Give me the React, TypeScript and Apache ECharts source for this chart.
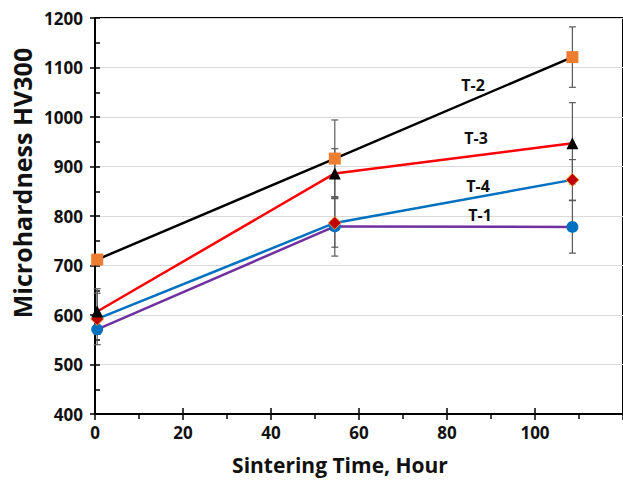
import React, { useEffect, useRef } from "react";
import * as echarts from "echarts";

// Sintering time positions of the plotted points (as drawn on the axis)
const hours = [0.5, 54.5, 108.5];
const seriesNames = ["T-1", "T-4", "T-3", "T-2"];
const t1Values = [571, 779, 778];
const t4Values = [592, 786, 873];
const t3Values = [607, 886, 947];
const t2Values = [712, 916, 1121];
const t1Err = [0, 60, 53];
const t4Err = [52, 49, 41];
const t3Err = [46, 50, 82];
const t2Err = [0, 78, 61];
const xMin = 0;
const xMax = 120;
const xStep = 20;
const yMin = 400;
const yMax = 1200;
const yStep = 100;

const FONT = "'Open Sans', 'Liberation Sans', sans-serif";

export default function App() {
  const ref = useRef<HTMLDivElement>(null);
  useEffect(() => {
    if (!ref.current) return;
    const chart = echarts.init(ref.current, undefined, { renderer: "svg" });

    const values = [t1Values, t4Values, t3Values, t2Values];
    const errs = [t1Err, t4Err, t3Err, t2Err];
    const lineColors = ["#7030A0", "#0070C0", "#FF0000", "#000000"];
    const markerColors = ["#0070C0", "#C00000", "#000000", "#ED7D31"];
    const symbols = ["circle", "diamond", "triangle", "rect"];
    const symbolSizes = [12, 13, 12, 12];

    const errData: number[][] = [];
    values.forEach((vals, si) => {
      vals.forEach((v, i) => {
        if (errs[si][i] > 0) errData.push([hours[i], v, errs[si][i]]);
      });
    });

    const lineSeries = values.map((vals, si) => ({
      type: "line",
      name: seriesNames[si],
      data: vals.map((v, i) => [hours[i], v]),
      symbol: symbols[si],
      symbolSize: symbolSizes[si],
      showAllSymbol: true,
      lineStyle: { color: lineColors[si], width: 2.5 },
      itemStyle: {
        color: markerColors[si],
        borderColor: si === 1 ? "#E8A040" : markerColors[si],
        borderWidth: si === 1 ? 1 : 0,
      },
      z: 3 + si,
      xAxisIndex: 0,
      yAxisIndex: 0,
    }));

    const boldText = { fontFamily: FONT, fontWeight: "bold" as const, color: "#111" };

    const labelPos = [
      { x: 480, y: 215 },
      { x: 478, y: 186 },
      { x: 476, y: 138 },
      { x: 473, y: 85 },
    ];

    chart.setOption({
      animation: false,
      grid: {
        left: 95,
        top: 18,
        right: -6,
        bottom: 68,
        show: true,
        borderColor: "#000",
        borderWidth: 2,
        backgroundColor: "transparent",
      },
      xAxis: [
        {
          type: "value",
          min: xMin,
          max: xMax,
          interval: xStep,
          position: "bottom",
          axisLine: { show: true, lineStyle: { color: "#000", width: 2 } },
          axisTick: { show: true, length: 6, lineStyle: { color: "#000", width: 1.5 } },
          minorTick: { show: true, splitNumber: 2, length: 5, lineStyle: { color: "#000", width: 1.5 } },
          splitLine: { show: false },
          axisLabel: { ...boldText, fontSize: 17, margin: 10, showMaxLabel: false },
        },
        {
          type: "value",
          min: xMin,
          max: xMax,
          interval: xStep,
          position: "bottom",
          axisLine: { show: false },
          axisTick: { show: true, inside: true, length: 6, lineStyle: { color: "#000", width: 1.5 } },
          splitLine: { show: false },
          axisLabel: { show: false },
        },
      ],
      yAxis: [
        {
          type: "value",
          min: yMin,
          max: yMax,
          interval: yStep,
          position: "left",
          axisLine: { show: true, lineStyle: { color: "#000", width: 2 } },
          axisTick: { show: true, length: 5, lineStyle: { color: "#000", width: 1.5 } },
          splitLine: { show: true, lineStyle: { color: "#D9D9D9", width: 1.2 } },
          axisLabel: { ...boldText, fontSize: 17, margin: 12, formatter: (v: number) => String(v) },
        },
        {
          type: "value",
          min: yMin,
          max: yMax,
          interval: yStep,
          position: "left",
          axisLine: { show: false },
          axisTick: { show: true, inside: true, length: 5, lineStyle: { color: "#000", width: 1.5 } },
          minorTick: { show: true, splitNumber: 2, length: 5, lineStyle: { color: "#000", width: 1.5 } },
          splitLine: { show: false },
          axisLabel: { show: false },
        },
      ],
      series: [
        {
          type: "custom",
          name: "error",
          xAxisIndex: 0,
          yAxisIndex: 0,
          z: 2,
          data: errData,
          renderItem: (params: any, api: any) => {
            const x = api.value(0);
            const y = api.value(1);
            const e = api.value(2);
            const top = api.coord([x, y + e]);
            const bot = api.coord([x, y - e]);
            const hw = 3.5;
            const st = { stroke: "#5A5A5A", lineWidth: 1.2 };
            return {
              type: "group",
              children: [
                { type: "line", shape: { x1: top[0], y1: top[1], x2: bot[0], y2: bot[1] }, style: st },
                { type: "line", shape: { x1: top[0] - hw, y1: top[1], x2: top[0] + hw, y2: top[1] }, style: st },
                { type: "line", shape: { x1: bot[0] - hw, y1: bot[1], x2: bot[0] + hw, y2: bot[1] }, style: st },
              ],
            };
          },
        },
        ...lineSeries,
      ],
      graphic: [
        ...seriesNames.map((n, i) => ({
          type: "text",
          x: labelPos[i].x,
          y: labelPos[i].y,
          z: 100,
          style: {
            text: n,
            fill: "#111",
            font: `bold 16px ${FONT}`,
            textAlign: "center",
            textVerticalAlign: "middle",
          },
        })),
        {
          type: "text",
          x: 22,
          y: 183,
          rotation: Math.PI / 2,
          z: 100,
          style: {
            text: "Microhardness HV300",
            fill: "#111",
            font: `bold 25px ${FONT}`,
            textAlign: "center",
            textVerticalAlign: "middle",
          },
        },
        {
          type: "text",
          x: 340,
          y: 465,
          z: 100,
          style: {
            text: "Sintering Time, Hour",
            fill: "#111",
            font: `bold 21px ${FONT}`,
            textAlign: "center",
            textVerticalAlign: "middle",
          },
        },
      ],
    });
    return () => chart.dispose();
  }, []);
  return (
    <div
      ref={ref}
      style={{ position: "absolute", left: 0, top: 0, width: 623, height: 482, overflow: "hidden" }}
    />
  );
}
